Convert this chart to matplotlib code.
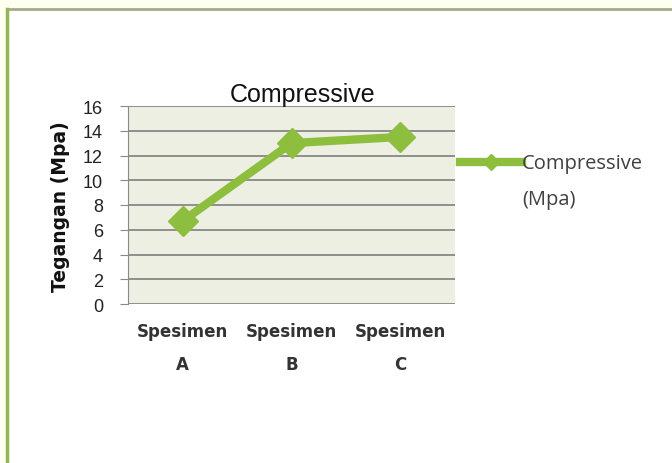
import matplotlib
matplotlib.use('Agg')
import matplotlib.pyplot as plt
from matplotlib.lines import Line2D
from matplotlib.patches import Rectangle

categories = ['Spesimen\nA', 'Spesimen\nB', 'Spesimen\nC']
compressive = [6.7, 13.0, 13.5]
yticks = [0, 2, 4, 6, 8, 10, 12, 14, 16]

green = '#8DBE3E'
W, H = 672, 464

fig = plt.figure(figsize=(6.72, 4.64), dpi=100, facecolor='white')

# outer light frame like the original screenshot
fig.patches.append(Rectangle((0, 0), 1, 1, transform=fig.transFigure,
                             facecolor='#FFFFF0', edgecolor='none', zorder=-3))
fig.patches.append(Rectangle((8 / W, 0), 1, 1 - 11 / H, transform=fig.transFigure,
                             facecolor='white', edgecolor='none', zorder=-2))
fig.lines.append(Line2D([7 / W, 1], [1 - 10 / H, 1 - 10 / H], transform=fig.transFigure,
                        color='#A3AD8C', lw=2))
fig.lines.append(Line2D([7 / W, 7 / W], [0, 1 - 10 / H], transform=fig.transFigure,
                        color='#93B458', lw=2.5))

ax = fig.add_axes([128 / W, 1 - 305 / H, 327 / W, 198 / H])
ax.set_facecolor('#EEEFE3')

x = range(len(categories))
ax.plot(x, compressive, color=green, lw=6, marker='D', markersize=15,
        markerfacecolor=green, markeredgecolor=green, solid_joinstyle='round')

ax.set_xlim(-0.5, 2.5)
ax.set_ylim(0, 16)
ax.set_yticks(yticks)
ax.set_yticklabels([str(v) for v in yticks], fontsize=13, color='#222222',
                   family='Liberation Sans')
ax.set_xticks(list(x))
ax.set_xticklabels(categories, fontsize=12, fontweight='bold', color='#333333',
                   family='DejaVu Sans', linespacing=2.1)
ax.tick_params(axis='x', length=0, pad=13)
ax.tick_params(axis='y', length=6, color='#888888', pad=12)
ax.grid(axis='y', color='#7F7F7F', lw=1.2)
ax.set_axisbelow(True)
for s in ['top', 'right', 'bottom']:
    ax.spines[s].set_visible(False)
ax.spines['left'].set_color('#888888')

fig.text(303 / W, 1 - 95 / H, 'Compressive', ha='center', va='center', fontsize=18,
         color='#111111', family='Liberation Sans')
fig.text(60 / W, 1 - 207 / H, 'Tegangan (Mpa)', rotation=90, ha='center', va='center',
         fontsize=13.5, fontweight='bold', color='#111111', family='DejaVu Sans')

# legend
fig.lines.append(Line2D([460 / W, 522 / W], [1 - 163 / H, 1 - 163 / H], transform=fig.transFigure,
                        color=green, lw=6))
fig.lines.append(Line2D([491 / W], [1 - 163 / H], transform=fig.transFigure,
                        color=green, marker='D', markersize=8, lw=0))
fig.text(522 / W, 1 - 164 / H, 'Compressive', ha='left', va='center', fontsize=14.5,
         color='#404040', family=['Open Sans', 'DejaVu Sans'])
fig.text(522 / W, 1 - 200 / H, '(Mpa)', ha='left', va='center', fontsize=14.5,
         color='#404040', family=['Open Sans', 'DejaVu Sans'])

fig.savefig('out.png', dpi=100, facecolor=fig.get_facecolor())
